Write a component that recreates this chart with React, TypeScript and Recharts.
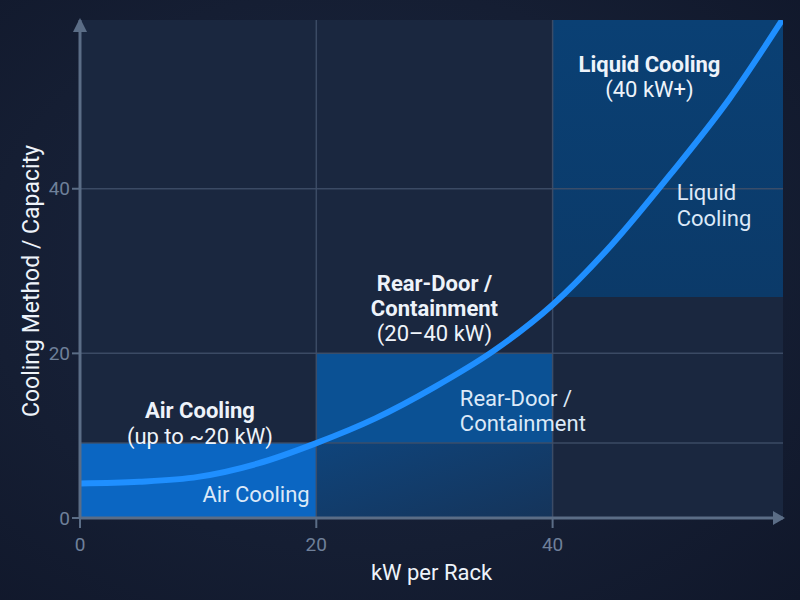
import React from 'react';
import {
  ComposedChart,
  Line,
  XAxis,
  YAxis,
  ReferenceArea,
  ReferenceLine,
  ReferenceDot,
} from 'recharts';

// rack density (kW) vs. required cooling capacity
const kwPerRack = [0, 5, 10, 15, 20, 25, 30, 35, 40, 45, 50, 55, 59.3];
const capacity = [4.2, 4.4, 5.0, 6.6, 9.1, 12.1, 15.9, 20.3, 25.9, 33.2, 41.8, 51.0, 60.2];

// cooling tiers: x range (kW) and vertical band
const tierNames = ['Air Cooling', 'Rear-Door / Containment', 'Liquid Cooling'];
const tierFrom = [0, 20, 40];
const tierTo = [20, 40, 59.5];
const tierLow = [0, 0, 26.85];
const tierHigh = [9.1, 20, 60.5];

const xTicks = [0, 20, 40];
const yTicks = [0, 20, 40];
const extraGridY = [9.1];

const X_MAX = 59.5;
const Y_MAX = 60.5;

const chartData = kwPerRack.map((kw, i) => ({ kw, capacity: capacity[i] }));

const FONT = 'Roboto, "Noto Sans", sans-serif';
const AXIS = '#5b6d86';
const GRID = '#3f4f68';
const TICK = '#6f809a';
const TEXT = '#eef3fa';

type Line = { text: string; bold?: boolean };

// multi-line annotation anchored at a data point
const textBlock = (lines: Line[], anchor: 'start' | 'middle', gap: number, color = TEXT) =>
  (props: { cx?: number; cy?: number }) => {
    const { cx = 0, cy = 0 } = props;
    return (
      <text x={cx} y={cy} textAnchor={anchor} fontFamily={FONT} fontSize={22} fill={color}>
        {lines.map((l, i) => (
          <tspan key={i} x={cx} dy={i === 0 ? 0 : gap} fontWeight={l.bold ? 700 : 400}>
            {l.text}
          </tspan>
        ))}
      </text>
    );
  };

const arrowUp = (props: { cx?: number; cy?: number }) => {
  const { cx = 0, cy = 0 } = props;
  return <polygon points={`${cx},${cy - 2} ${cx - 7},${cy + 12} ${cx + 7},${cy + 12}`} fill={AXIS} />;
};

const arrowRight = (props: { cx?: number; cy?: number }) => {
  const { cx = 0, cy = 0 } = props;
  return <polygon points={`${cx + 2},${cy} ${cx - 10},${cy - 7} ${cx - 10},${cy + 7}`} fill={AXIS} />;
};

export default function App() {
  return (
    <div
      style={{
        position: 'absolute',
        left: 0,
        top: 0,
        width: 800,
        height: 600,
        fontFamily: FONT,
        background: 'radial-gradient(ellipse at 45% 45%, #1a2540 0%, #151e33 60%, #10172a 100%)',
      }}
    >
      <ComposedChart
        width={800}
        height={600}
        data={chartData}
        margin={{ top: 20, right: 17, left: 0, bottom: 0 }}
      >
        <defs>
          <linearGradient id="rearLow" x1="0" y1="0" x2="1" y2="1">
            <stop offset="0%" stopColor="#0f447b" />
            <stop offset="100%" stopColor="#15345a" />
          </linearGradient>
          <linearGradient id="liquidFill" x1="0" y1="0" x2="0" y2="1">
            <stop offset="0%" stopColor="#0a4074" />
            <stop offset="100%" stopColor="#0b3a69" />
          </linearGradient>
        </defs>

        <XAxis
          type="number"
          dataKey="kw"
          domain={[0, X_MAX]}
          ticks={xTicks}
          allowDataOverflow
          height={82}
          axisLine={{ stroke: AXIS, strokeWidth: 3 }}
          tickLine={{ stroke: AXIS, strokeWidth: 2 }}
          tickSize={10}
          tickMargin={10}
          tick={{ fill: TICK, fontSize: 19, fontFamily: FONT }}
          label={{ value: 'kW per Rack', position: 'insideBottom', offset: 20, fill: TEXT, fontSize: 22, fontFamily: FONT }}
        />
        <YAxis
          type="number"
          domain={[0, Y_MAX]}
          ticks={yTicks}
          allowDataOverflow
          width={80}
          axisLine={{ stroke: AXIS, strokeWidth: 3 }}
          tickLine={{ stroke: AXIS, strokeWidth: 2 }}
          tickSize={8}
          tickMargin={2}
          tick={{ fill: TICK, fontSize: 19, fontFamily: FONT }}
          label={{
            content: (p: { viewBox?: { x: number; y: number; height: number } }) => {
              const vb = p.viewBox || { x: 0, y: 20, height: 498 };
              const cx = vb.x + 31;
              const cy = vb.y + vb.height / 2 + 12;
              return (
                <text
                  x={cx}
                  y={cy}
                  transform={`rotate(-90 ${cx} ${cy})`}
                  textAnchor="middle"
                  dominantBaseline="central"
                  fill={TEXT}
                  fontSize={23}
                  fontFamily={FONT}
                >
                  Cooling Method / Capacity
                </text>
              );
            },
          }}
        />

        {/* plot background */}
        <ReferenceArea x1={0} x2={X_MAX} y1={0} y2={Y_MAX} fill="#1a273f" fillOpacity={1} stroke="none" zIndex={10} />

        {/* tier blocks */}
        <ReferenceArea x1={tierFrom[0]} x2={tierTo[0]} y1={tierLow[0]} y2={tierHigh[0]} fill="#0b66c2" fillOpacity={1} stroke="none" zIndex={20} />
        <ReferenceArea x1={tierFrom[1]} x2={tierTo[1]} y1={tierLow[1]} y2={extraGridY[0]} fill="url(#rearLow)" fillOpacity={1} stroke="none" zIndex={20} />
        <ReferenceArea x1={tierFrom[1]} x2={tierTo[1]} y1={extraGridY[0]} y2={tierHigh[1]} fill="#0b5194" fillOpacity={1} stroke="none" zIndex={20} />
        <ReferenceArea x1={tierFrom[2]} x2={tierTo[2]} y1={tierLow[2]} y2={tierHigh[2]} fill="url(#liquidFill)" fillOpacity={1} stroke="none" zIndex={20} />

        {/* grid */}
        {xTicks.slice(1).map((v) => (
          <ReferenceLine key={`gx-${v}`} x={v} stroke={GRID} strokeWidth={1.5} strokeOpacity={0.9} zIndex={30} />
        ))}
        {yTicks.slice(1).concat(extraGridY).map((v) => (
          <ReferenceLine key={`gy-${v}`} y={v} stroke={GRID} strokeWidth={1.5} strokeOpacity={0.9} zIndex={30} />
        ))}

        <Line
          type="monotone"
          dataKey="capacity"
          stroke="#1f8fff"
          strokeWidth={6}
          strokeLinecap="round"
          dot={false}
          activeDot={false}
          isAnimationActive={false}
          zIndex={400}
        />

        {/* axis arrowheads */}
        <ReferenceDot x={0} y={Y_MAX} r={0} ifOverflow="visible" shape={arrowUp} zIndex={600} />
        <ReferenceDot x={X_MAX} y={0} r={0} ifOverflow="visible" shape={arrowRight} zIndex={600} />

        {/* tier annotations */}
        <ReferenceDot
          x={10.15}
          y={12.2}
          r={0}
          ifOverflow="visible"
          zIndex={2100}
          shape={textBlock([{ text: tierNames[0], bold: true }, { text: '(up to ~20 kW)' }], 'middle', 26)}
        />
        <ReferenceDot
          x={14.9}
          y={1.95}
          r={0}
          ifOverflow="visible"
          zIndex={2100}
          shape={textBlock([{ text: tierNames[0] }], 'middle', 0, '#dce9f8')}
        />
        <ReferenceDot
          x={30.0}
          y={27.6}
          r={0}
          ifOverflow="visible"
          zIndex={2100}
          shape={textBlock(
            [{ text: 'Rear-Door /', bold: true }, { text: 'Containment', bold: true }, { text: '(20–40 kW)' }],
            'middle',
            25
          )}
        />
        <ReferenceDot
          x={32.15}
          y={13.6}
          r={0}
          ifOverflow="visible"
          zIndex={2100}
          shape={textBlock([{ text: 'Rear-Door /' }, { text: 'Containment' }], 'start', 25, '#dce9f8')}
        />
        <ReferenceDot
          x={48.2}
          y={54.2}
          r={0}
          ifOverflow="visible"
          zIndex={2100}
          shape={textBlock([{ text: tierNames[2], bold: true }, { text: '(40 kW+)' }], 'middle', 25)}
        />
        <ReferenceDot
          x={50.5}
          y={38.6}
          r={0}
          ifOverflow="visible"
          zIndex={2100}
          shape={textBlock([{ text: 'Liquid' }, { text: 'Cooling' }], 'start', 26, '#dce9f8')}
        />
      </ComposedChart>
    </div>
  );
}
